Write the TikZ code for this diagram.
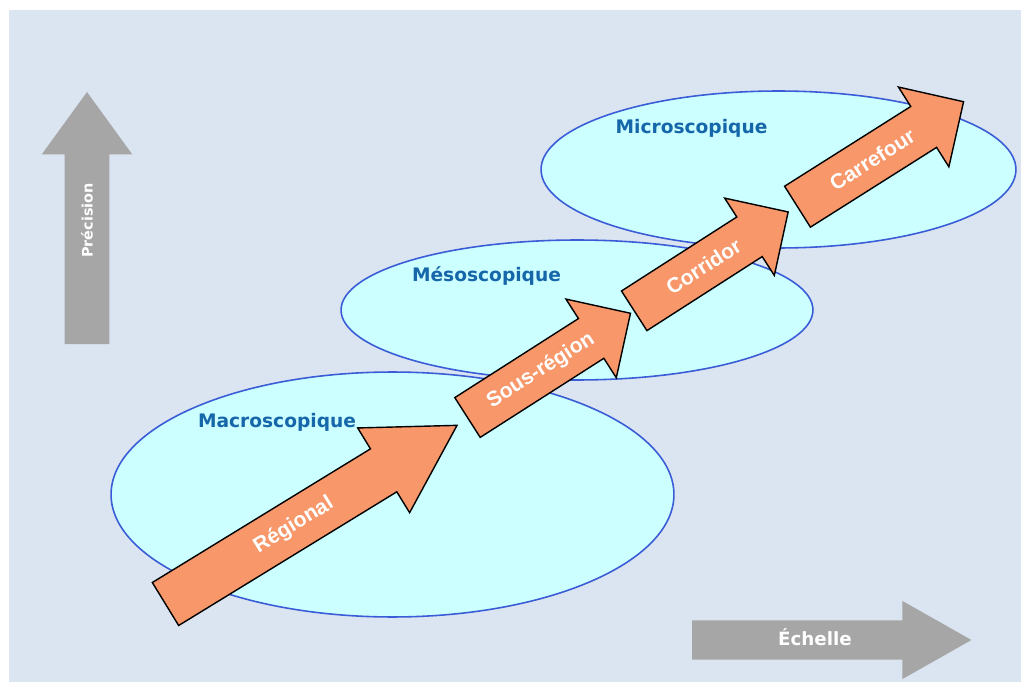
\documentclass[tikz,border=0pt]{standalone}
\usepackage{fontspec}
\usetikzlibrary{shapes.arrows,calc}

\newfontfamily\zonefont{DejaVu Sans}
\newfontfamily\stepfont{Liberation Sans}

\definecolor{bgblue}{RGB}{219,229,241}
\definecolor{zonefill}{RGB}{204,255,255}
\definecolor{zoneline}{RGB}{58,92,214}
\definecolor{zonetext}{RGB}{22,102,170}
\definecolor{stepfill}{RGB}{247,151,106}
\definecolor{axisgray}{RGB}{166,166,166}

\tikzstyle{every node}=[font=\zonefont\bfseries]

\begin{document}
\begin{tikzpicture}[
            x=0.02cm, y=-0.02cm,
            zonelabel/.style={text=zonetext, font=\zonefont\bfseries\fontsize{10.6}{12}\selectfont},
            axisarrow/.style={single arrow, fill=axisgray, inner xsep=0pt, outer sep=0pt, anchor=tail},
            steparrow/.style={single arrow, fill=stepfill, draw=black, line width=0.8pt,
                              inner xsep=0pt, outer sep=0pt, single arrow tip angle=90, anchor=tail},
            axislabel/.style={text=white, inner sep=0pt},
            steplabel/.style={text=white, inner sep=0pt, font=\stepfont\bfseries\fontsize{12}{14}\selectfont}]
        \useasboundingbox (0,0) rectangle (1021,682);
        \fill[white] (0,0) rectangle (1021,682);
        \fill[bgblue] (9,10) rectangle (1021,682);

        % the three zones
        \foreach \zone/\cx/\cy/\rx/\ry in {macro/392.5/494.5/5.63/2.45,
                                          meso/577/310/4.72/1.40,
                                          micro/778.5/169.5/4.75/1.57}
        {
            \coordinate (\zone) at (\cx,\cy);
            \fill[zonefill] (\zone) ellipse [x radius=\rx cm, y radius=\ry cm];
        }
        \foreach \zone/\rx/\ry in {macro/5.63/2.45, meso/4.72/1.40, micro/4.75/1.57}
            \draw[zoneline, line width=0.9pt] (\zone) ellipse [x radius=\rx cm, y radius=\ry cm];

        \node[zonelabel] (macrolabel) at (277,422.5) {Macroscopique};
        \node[zonelabel] (mesolabel) at (486.5,276) {Mésoscopique};
        \node[zonelabel] (microlabel) at (691.5,128.5) {Microscopique};

        % axes
        \node[axisarrow, rotate=90, minimum height=5.04cm, minimum width=1.8cm, inner ysep=0.44cm,
              single arrow head extend=0.46cm, single arrow tip angle=72] (precision) at (87,344) {};
        \node[axislabel, rotate=90, font=\zonefont\bfseries\fontsize{8.2}{10}\selectfont]
              (precisionlabel) at ($(precision.tail)!0.49!(precision.tip)$) {Précision};
        \node[axisarrow, minimum height=5.59cm, minimum width=1.55cm, inner ysep=0.387cm,
              single arrow head extend=0.388cm, single arrow tip angle=59] (echelle) at (692,640) {};
        \node[axislabel, font=\zonefont\bfseries\fontsize{10.4}{12}\selectfont]
              (echellelabel) at ($(echelle.tail)!0.44!(echelle.tip)+(0,-3)$) {Échelle};

        % steps
        \node[steparrow, rotate=31.5, minimum height=6.84cm, minimum width=1.96cm, inner ysep=0.49cm,
              single arrow head extend=0.49cm, single arrow tip angle=60] (regional) at (165.5,604) {};
        \node[steplabel, rotate=31.5] (regionallabel) at ($(regional.tail)!0.44!(regional.tip)$) {Régional};

        \node[steparrow, rotate=32.6, minimum height=3.87cm, minimum width=1.84cm, inner ysep=0.458cm,
              single arrow head extend=0.462cm] (sousregion) at (467.5,417.5) {};
        \node[steplabel, rotate=32.6] (sousregionlabel) at ($(sousregion.tail)!0.45!(sousregion.tip)$) {Sous-région};

        \node[steparrow, rotate=32.7, minimum height=3.66cm, minimum width=1.81cm, inner ysep=0.457cm,
              single arrow head extend=0.448cm] (corridor) at (634.2,310.8) {};
        \node[steplabel, rotate=32.7] (corridorlabel) at ($(corridor.tail)!0.45!(corridor.tip)$) {Corridor};

        \node[steparrow, rotate=32.3, minimum height=3.93cm, minimum width=1.86cm, inner ysep=0.47cm,
              single arrow head extend=0.46cm] (carrefour) at (797.5,206.7) {};
        \node[steplabel, rotate=32.3] (carrefourlabel) at ($(carrefour.tail)!0.45!(carrefour.tip)$) {Carrefour};
    \end{tikzpicture}
\end{document}
